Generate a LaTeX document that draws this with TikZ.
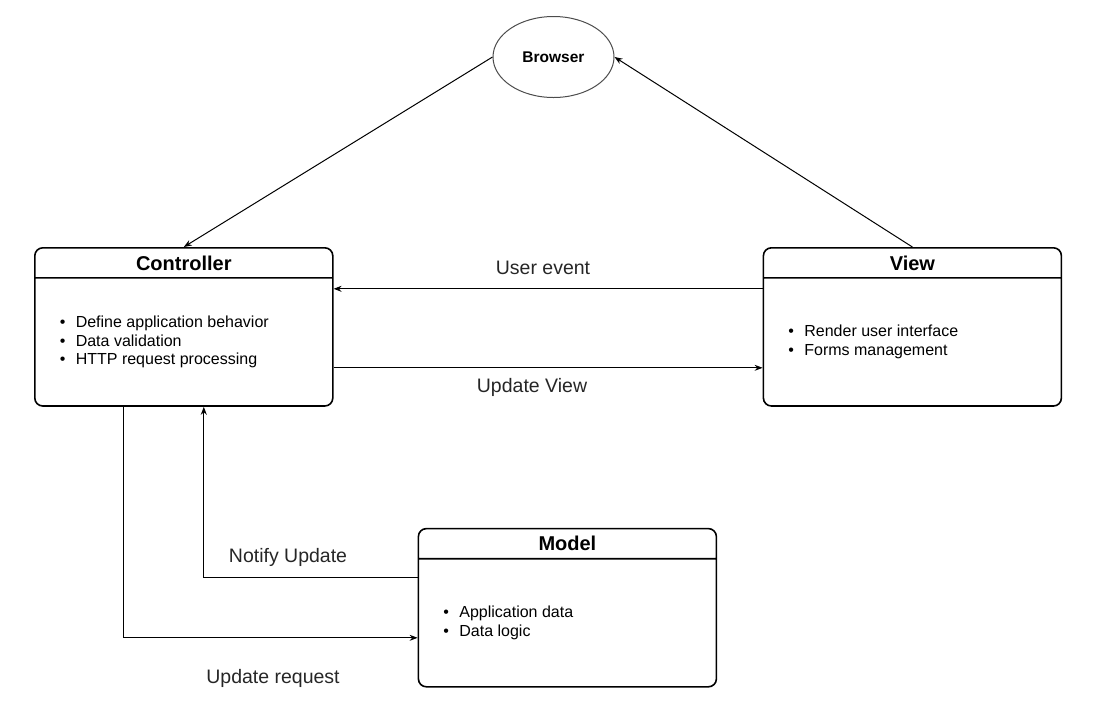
\documentclass[tikz,border=0pt]{standalone}
\usepackage{fontspec}
\setmainfont{Liberation Sans}
\usetikzlibrary{positioning, shapes.multipart, shapes.geometric, arrows.meta}

\newcommand{\headpart}[1]{\parbox[c][28.5pt][c]{298pt}{\centering\fontsize{20}{24}\selectfont\bfseries #1}}
\newcommand{\bodypart}[1]{\parbox[c][126.5pt][c]{298pt}{\fontsize{16}{18.5}\selectfont #1}}
\newcommand{\bitem}[1]{\hspace*{25pt}\makebox[16pt][l]{\textbullet}#1\par}

\begin{document}
\begin{tikzpicture}[x=1pt, y=-1pt, >={Stealth[length=8pt,width=6pt]},
    classbox/.style={rectangle split, rectangle split parts=2, draw,
      rounded corners=8pt, line width=1.6pt, inner sep=0pt},
    flow/.style={->, line width=1pt},
    lbl/.style={font=\fontsize{19.5}{22}\selectfont, text=black!85}]

    \useasboundingbox (0,0) rectangle (1106,713);

    \node[ellipse, draw=black!70, line width=1pt, minimum width=121pt, minimum height=81pt,
      inner sep=0pt, font=\bfseries\fontsize{15.5}{18}\selectfont] (browser) at (553.5,57) {Browser};

    \node[classbox, anchor=north west] (ctrl) at (34,247)
      {\headpart{Controller}
       \nodepart{two}\bodypart{\bitem{Define application behavior}\bitem{Data validation}\bitem{HTTP request processing}}};
    \node[classbox, right=429pt of ctrl] (view)
      {\headpart{View}
       \nodepart{two}\bodypart{\bitem{Render user interface}\bitem{Forms management}}};
    \node[classbox, below right=121pt and 84pt of ctrl] (model)
      {\headpart{Model}
       \nodepart{two}\bodypart{\bitem{Application data}\bitem{Data logic}}};

    \draw[flow] (browser.west) -- (ctrl.north);
    \draw[flow] (view.north) -- (browser.east);
    \draw[flow] ([yshift=118pt]view.south west) -- ([yshift=118pt]ctrl.south east);
    \draw[flow] ([yshift=39pt]ctrl.south east) -- ([yshift=39pt]view.south west);
    \draw[flow] ([yshift=-50pt]model.north west) -| ([xshift=20pt]ctrl.south);
    \draw[flow] ([xshift=-60pt]ctrl.south) |- ([yshift=-110pt]model.north west);

    \node[lbl] (userevent) at (543,268) {User event};
    \node[lbl] (updateview) at (532,387) {Update View};
    \node[lbl] (notify) at (288,557) {Notify Update};
    \node[lbl] (request) at (273,678) {Update request};
  \end{tikzpicture}
\end{document}
